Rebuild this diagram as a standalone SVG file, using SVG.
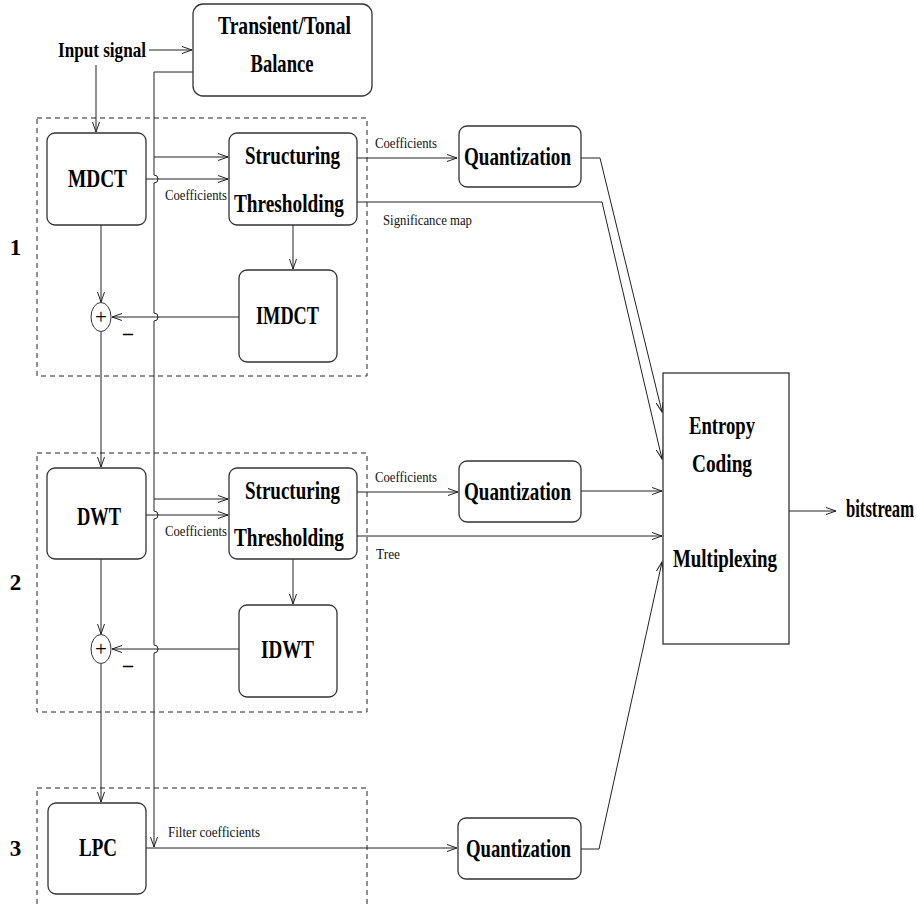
<svg xmlns="http://www.w3.org/2000/svg" width="917" height="908" viewBox="0 0 917 908">
<defs>
<marker id="arr" markerUnits="userSpaceOnUse" markerWidth="12" markerHeight="10" refX="10" refY="4" orient="auto">
<path d="M0,0.5 L10,4 L0,7.5" fill="none" stroke="#222" stroke-width="1"/>
</marker>
<style>
.box{fill:#fff;stroke:#333;stroke-width:1.3}
.dash{fill:none;stroke:#222;stroke-width:1;stroke-dasharray:5,4}
.ln{fill:none;stroke:#222;stroke-width:1}
.ar{marker-end:url(#arr)}
.lb{font-family:"Liberation Serif","Times New Roman",serif;font-weight:bold;font-size:26px;fill:#000;text-anchor:middle}
.sm{font-family:"Liberation Serif","Times New Roman",serif;font-size:15px;fill:#111}
.num{font-family:"Liberation Serif","Times New Roman",serif;font-weight:bold;font-size:23px;fill:#000;text-anchor:middle}
</style>
</defs>
<rect width="917" height="908" fill="#fff"/>

<g id="stages">
<rect class="dash" x="37" y="118" width="330" height="258"/>
<rect class="dash" x="37" y="453" width="330" height="259"/>
<rect class="dash" x="37" y="788" width="330" height="160"/>
<text class="num" x="15.5" y="255">1</text>
<text class="num" x="15.5" y="590">2</text>
<text class="num" x="15.5" y="856">3</text>
</g>

<g id="connectors">
<path class="ln ar" d="M149,50 H192"/>
<path class="ln ar" d="M96,65 V132"/>
<path class="ln ar" d="M193,72 H154 V175 A4,4 0 0 1 154,183 V313 A4,4 0 0 1 154,321 V511 A4,4 0 0 1 154,519 V645 A4,4 0 0 1 154,653 V847"/>
<path class="ln ar" d="M154,157 H228"/>
<path class="ln ar" d="M146,179 H228"/>
<path class="ln ar" d="M357,158 H457"/>
<path class="ln ar" d="M581,158 H600 L662,412"/>
<path class="ln ar" d="M357,202 H602 L662,459"/>
<path class="ln ar" d="M293,225 V269"/>
<path class="ln ar" d="M239,317 H112"/>
<path class="ln ar" d="M101,225 V302"/>
<path class="ln ar" d="M101,332 V467"/>
<path class="ln ar" d="M154,499 H228"/>
<path class="ln ar" d="M146,515 H228"/>
<path class="ln ar" d="M357,492 H458"/>
<path class="ln ar" d="M581,491 H662"/>
<path class="ln ar" d="M357,536 H662"/>
<path class="ln ar" d="M293,559 V604"/>
<path class="ln ar" d="M239,649 H112"/>
<path class="ln ar" d="M101,559 V634"/>
<path class="ln ar" d="M101,664 V802"/>
<path class="ln ar" d="M146,848 H457"/>
<path class="ln ar" d="M581,849 H599 L662,562"/>
<path class="ln ar" d="M789,511 H836"/>
<text class="sm" x="375" y="148" textLength="62" lengthAdjust="spacingAndGlyphs">Coefficients</text>
<text class="sm" x="165" y="200" textLength="62" lengthAdjust="spacingAndGlyphs">Coefficients</text>
<text class="sm" x="383" y="225" textLength="89" lengthAdjust="spacingAndGlyphs">Significance map</text>
<text class="sm" x="375" y="482" textLength="62" lengthAdjust="spacingAndGlyphs">Coefficients</text>
<text class="sm" x="165" y="536" textLength="62" lengthAdjust="spacingAndGlyphs">Coefficients</text>
<text class="sm" x="376" y="559" textLength="24" lengthAdjust="spacingAndGlyphs">Tree</text>
<text class="sm" x="168" y="837" textLength="92" lengthAdjust="spacingAndGlyphs">Filter coefficients</text>
</g>

<g id="input">
<text class="lb" x="102" y="57" style="font-size:22px" textLength="88" lengthAdjust="spacingAndGlyphs">Input signal</text>
</g>

<g id="transient">
<rect class="box" x="193" y="4" width="179" height="92" rx="10"/>
<text class="lb" x="284.5" y="34" textLength="133" lengthAdjust="spacingAndGlyphs">Transient/Tonal</text>
<text class="lb" x="282" y="72" textLength="63" lengthAdjust="spacingAndGlyphs">Balance</text>
</g>

<g id="mdct">
<rect class="box" x="47" y="133" width="99" height="92" rx="8"/>
<text class="lb" x="97.5" y="187" textLength="59" lengthAdjust="spacingAndGlyphs">MDCT</text>
</g>

<g id="struct1">
<rect class="box" x="229" y="133" width="128" height="92" rx="8"/>
<text class="lb" x="292.5" y="164" textLength="95" lengthAdjust="spacingAndGlyphs">Structuring</text>
<text class="lb" x="289" y="212" textLength="110" lengthAdjust="spacingAndGlyphs">Thresholding</text>
</g>

<g id="imdct">
<rect class="box" x="239" y="270" width="98" height="92" rx="8"/>
<text class="lb" x="287.5" y="324" textLength="63" lengthAdjust="spacingAndGlyphs">IMDCT</text>
</g>

<g id="sum1">
<ellipse class="box" cx="101" cy="317" rx="10" ry="14.5" style="stroke-width:1"/>
<text class="lb" x="101" y="324" style="font-weight:normal;font-size:21px">+</text>
<text class="lb" x="128" y="340" style="font-size:20px">–</text>
</g>

<g id="quant1">
<rect class="box" x="459" y="126" width="122" height="61" rx="8"/>
<text class="lb" x="517.5" y="165" textLength="107" lengthAdjust="spacingAndGlyphs">Quantization</text>
</g>

<g id="dwt">
<rect class="box" x="47" y="468" width="99" height="91" rx="8"/>
<text class="lb" x="99" y="525" textLength="44" lengthAdjust="spacingAndGlyphs">DWT</text>
</g>

<g id="struct2">
<rect class="box" x="229" y="468" width="128" height="91" rx="8"/>
<text class="lb" x="292.5" y="499" textLength="95" lengthAdjust="spacingAndGlyphs">Structuring</text>
<text class="lb" x="289" y="546" textLength="110" lengthAdjust="spacingAndGlyphs">Thresholding</text>
</g>

<g id="idwt">
<rect class="box" x="239" y="605" width="98" height="92" rx="8"/>
<text class="lb" x="287.5" y="658" textLength="53" lengthAdjust="spacingAndGlyphs">IDWT</text>
</g>

<g id="sum2">
<ellipse class="box" cx="101" cy="649" rx="10" ry="14.5" style="stroke-width:1"/>
<text class="lb" x="101" y="656" style="font-weight:normal;font-size:21px">+</text>
<text class="lb" x="128" y="672" style="font-size:20px">–</text>
</g>

<g id="quant2">
<rect class="box" x="459" y="461" width="122" height="61" rx="8"/>
<text class="lb" x="517.5" y="500" textLength="107" lengthAdjust="spacingAndGlyphs">Quantization</text>
</g>

<g id="lpc">
<rect class="box" x="48" y="803" width="98" height="91" rx="8"/>
<text class="lb" x="98" y="856" textLength="38" lengthAdjust="spacingAndGlyphs">LPC</text>
</g>

<g id="quant3">
<rect class="box" x="458" y="818" width="123" height="61" rx="8"/>
<text class="lb" x="518.5" y="857" textLength="105" lengthAdjust="spacingAndGlyphs">Quantization</text>
</g>

<g id="entropy">
<rect class="box" x="663" y="373" width="126" height="271"/>
<text class="lb" x="722" y="434" textLength="66" lengthAdjust="spacingAndGlyphs">Entropy</text>
<text class="lb" x="722" y="472" textLength="60" lengthAdjust="spacingAndGlyphs">Coding</text>
<text class="lb" x="725" y="567" textLength="104" lengthAdjust="spacingAndGlyphs">Multiplexing</text>
</g>

<g id="bitstream">
<text class="lb" x="846" y="517" style="text-anchor:start" textLength="68" lengthAdjust="spacingAndGlyphs">bitstream</text>
</g>
</svg>
